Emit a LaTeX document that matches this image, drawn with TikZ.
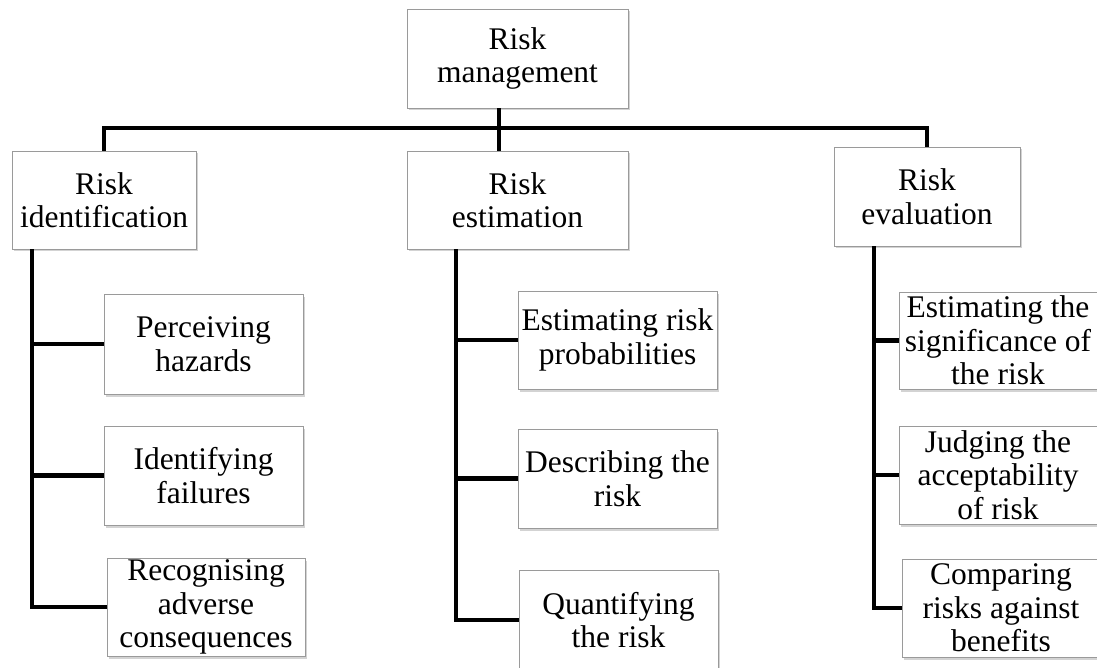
\documentclass[tikz,border=0pt]{standalone}
\usepackage{fontspec}
\setmainfont{Liberation Serif}
\usepackage{tikz}
\usetikzlibrary{positioning,calc,shadows}
\definecolor{boxEdge}{HTML}{9A9A9A}
\definecolor{boxShade}{HTML}{808080}

\begin{document}
\begin{tikzpicture}[x=1pt,y=-1pt,
  block/.style={draw=boxEdge,line width=0.9pt,fill=white,inner sep=0.5pt,
    align=center,font=\fontsize{31.5}{33.5}\selectfont,
    drop shadow={shadow xshift=2pt,shadow yshift=-2.5pt,fill=boxShade,opacity=.35}},
  link/.style={line width=4.6pt,black}]
\useasboundingbox (0,0) rectangle (1097,668);
% top level
\node[block,minimum width=221pt,minimum height=99pt] (mgmt) at (517.5,58.5) {Risk\\management};
% second level
\node[block,minimum width=184pt,minimum height=98pt] (ident) at (104,200) {Risk\\identification};
\node[block,minimum width=221pt,minimum height=98pt] (est) at (517.5,200) {Risk\\estimation};
\node[block,minimum width=186pt,minimum height=99pt] (eval) at (927,196.5) {Risk\\evaluation};
% identification branch
\node[block,minimum width=199pt,minimum height=100pt] (perc) at (203.5,344) {Perceiving\\hazards};
\node[block,minimum width=199pt,minimum height=99pt] (fail) at (203.5,475.5) {Identifying\\failures};
\node[block,minimum width=198pt,minimum height=98pt] (recog) at (206,607) {Recognising\\adverse\\consequences};
% estimation branch
\node[block,minimum width=199pt,minimum height=98pt] (prob) at (617.5,340) {Estimating risk\\probabilities};
\node[block,minimum width=199pt,minimum height=99pt] (descr) at (617.5,478.5) {Describing the\\risk};
\node[block,minimum width=199pt,minimum height=100pt] (quant) at (618.5,620) {Quantifying\\the risk};
% evaluation branch
\node[block,minimum width=198pt,minimum height=97pt] (signif) at (998,340.5) {Estimating the\\significance of\\the risk};
\node[block,minimum width=198pt,minimum height=98pt] (judge) at (998,475) {Judging the\\acceptability\\of risk};
\node[block,minimum width=198pt,minimum height=98pt] (compar) at (1001,608) {Comparing\\risks against\\benefits};
% connectors
\coordinate (hub) at (499,128);
\coordinate (trunkA) at (32,0);
\coordinate (trunkB) at (456,0);
\coordinate (trunkC) at (874,0);
\draw[link] (ident.north) |- (hub) -| (eval.north);
\draw[link] (mgmt.south -| hub) -- (est.north -| hub);
\draw[link] (ident.south -| trunkA) |- (recog.west);
\draw[link] (trunkA |- perc.west) -- (perc.west);
\draw[link] (trunkA |- fail.west) -- (fail.west);
\draw[link] (est.south -| trunkB) |- (quant.west);
\draw[link] (trunkB |- prob.west) -- (prob.west);
\draw[link] (trunkB |- descr.west) -- (descr.west);
\draw[link] (eval.south -| trunkC) |- (compar.west);
\draw[link] (trunkC |- signif.west) -- (signif.west);
\draw[link] (trunkC |- judge.west) -- (judge.west);
\end{tikzpicture}
\end{document}
